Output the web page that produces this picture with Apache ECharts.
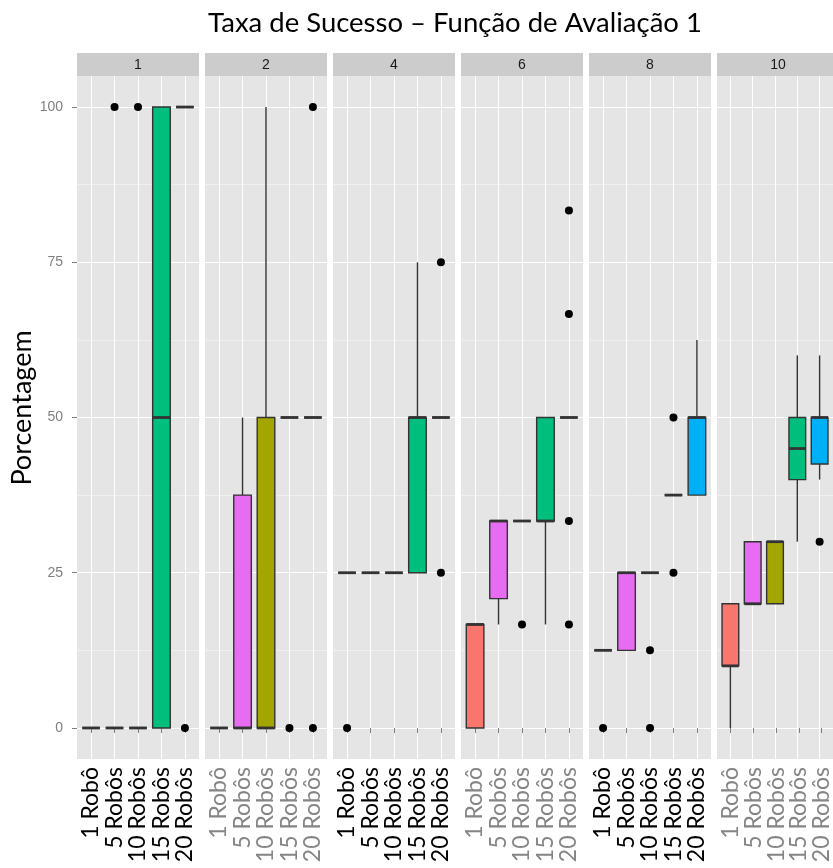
<!DOCTYPE html>
<html><head><meta charset="utf-8">
<script src="https://cdn.jsdelivr.net/npm/echarts@6/dist/echarts.min.js"></script>
<style>html,body{margin:0;padding:0;background:#fff}#c{width:833px;height:868px}</style>
</head><body><div id="c"></div>
<script>
// ---------- data ----------
const facets = ['1', '2', '4', '6', '8', '10'];
const categories = ['1 Robô', '5 Robôs', '10 Robôs', '15 Robôs', '20 Robôs'];
const colors = ['#F8766D', '#E76BF3', '#A3A500', '#00BF7D', '#00B0F6'];
const yTicks = [0, 25, 50, 75, 100];
const yMinorTicks = [12.5, 37.5, 62.5, 87.5];
// box stats per category: [min, q1, median, q3, max]
const stats1 = [[0,0,0,0,0],[0,0,0,0,0],[0,0,0,0,0],[0,0,50,100,100],[100,100,100,100,100]];
const stats2 = [[0,0,0,0,0],[0,0,0,37.5,50],[0,0,0,50,100],[50,50,50,50,50],[50,50,50,50,50]];
const stats4 = [[25,25,25,25,25],[25,25,25,25,25],[25,25,25,25,25],[25,25,50,50,75],[50,50,50,50,50]];
const stats6 = [[0,0,16.67,16.67,16.67],[16.67,20.83,33.33,33.33,33.33],[33.33,33.33,33.33,33.33,33.33],[16.67,33.33,33.33,50,50],[50,50,50,50,50]];
const stats8 = [[12.5,12.5,12.5,12.5,12.5],[12.5,12.5,25,25,25],[25,25,25,25,25],[37.5,37.5,37.5,37.5,37.5],[37.5,37.5,50,50,62.5]];
const stats10 = [[0,10,10,20,20],[20,20,20,30,30],[20,20,30,30,30],[30,40,45,50,60],[40,42.5,50,50,60]];
// outliers per category
const out1 = [[], [100], [100], [], [0]];
const out2 = [[], [], [], [0], [100, 0]];
const out4 = [[0], [], [], [], [75, 25]];
const out6 = [[], [], [16.67], [], [83.33, 66.67, 33.33, 16.67]];
const out8 = [[0], [], [12.5, 0], [50, 25], []];
const out10 = [[], [], [], [], [30]];

const allStats = [stats1, stats2, stats4, stats6, stats8, stats10];
const allOut = [out1, out2, out4, out6, out8, out10];
const labelColors = ['#000000', '#858585', '#000000', '#858585', '#000000', '#858585'];

// ---------- layout ----------
const P_LEFT = 77, P_STEP = 128, P_W = 122, P_TOP = 76, P_H = 683;
const STRIP_TOP = 53, STRIP_H = 23;
const X_MIN = 0.4, X_SPAN = 5.2;
const BW = 0.375;
const UNIT = P_W / X_SPAN;               // px per category step
const CAT_OFF = (1 - X_MIN - 0.5) * UNIT; // left offset of the label band

function renderBox(params, api) {
  const x = api.value(0);
  const vmin = api.value(1), q1 = api.value(2), med = api.value(3), q3 = api.value(4), vmax = api.value(5);
  const color = colors[api.value(6)];
  const l = api.coord([x - BW, q1]);
  const r = api.coord([x + BW, q3]);
  const c = api.coord([x, med]);
  const pMin = api.coord([x, vmin]);
  const pMax = api.coord([x, vmax]);
  const st = { stroke: '#333333', lineWidth: 1.4 };
  const children = [];
  if (vmax > q3) children.push({ type: 'line', shape: { x1: c[0], y1: pMax[1], x2: c[0], y2: r[1] }, style: st });
  if (vmin < q1) children.push({ type: 'line', shape: { x1: c[0], y1: l[1], x2: c[0], y2: pMin[1] }, style: st });
  children.push({ type: 'rect', shape: { x: l[0], y: r[1], width: r[0] - l[0], height: l[1] - r[1] },
    style: { fill: color, stroke: '#333333', lineWidth: 1.4 } });
  children.push({ type: 'line', shape: { x1: l[0], y1: c[1], x2: r[0], y2: c[1] }, style: { stroke: '#333333', lineWidth: 2.8 } });
  return { type: 'group', children: children };
}

const grids = [], xAxes = [], yAxes = [], series = [], graphics = [];
const N = facets.length;
facets.forEach(function (f, i) {
  const left = P_LEFT + P_STEP * i;
  // panel grid (background, gridlines, boxes)
  grids.push({ left: left, top: P_TOP, width: P_W, height: P_H, show: true, backgroundColor: '#E5E5E5', borderWidth: 0 });
  xAxes.push({
    type: 'value', gridIndex: i, min: X_MIN, max: X_MIN + X_SPAN,
    axisLine: { show: false },
    axisTick: { show: false, customValues: [1, 2, 3, 4, 5] },
    axisLabel: { show: false, customValues: [1, 2, 3, 4, 5] },
    splitLine: { show: true, lineStyle: { color: '#FFFFFF', width: 1 } }
  });
  yAxes.push({
    type: 'value', gridIndex: i, min: -5, max: 105, position: 'left',
    axisLine: { show: false },
    axisTick: { show: i === 0, length: 5, lineStyle: { color: '#7F7F7F' }, customValues: yTicks },
    axisLabel: { show: i === 0, customValues: yTicks, color: '#7F7F7F', fontFamily: 'Liberation Sans', fontSize: 14, margin: 14 },
    splitLine: { show: true, lineStyle: { color: '#FFFFFF', width: 1.2 } }
  });
  yAxes.push({
    type: 'value', gridIndex: i, min: -5, max: 105, position: 'right',
    axisLine: { show: false }, axisTick: { show: false, customValues: yMinorTicks },
    axisLabel: { show: false, customValues: yMinorTicks },
    splitLine: { show: true, lineStyle: { color: '#F2F2F2', width: 0.8 } }
  });
  const boxData = allStats[i].map(function (s, k) { return [k + 1, s[0], s[1], s[2], s[3], s[4], k]; });
  series.push({ type: 'custom', xAxisIndex: i, yAxisIndex: 2 * i, renderItem: renderBox, data: boxData, z: 3,
    encode: { x: 0, y: [1, 5] } });
  const pts = [];
  allOut[i].forEach(function (arr, k) { arr.forEach(function (v) { pts.push([k + 1, v]); }); });
  series.push({ type: 'scatter', xAxisIndex: i, yAxisIndex: 2 * i, data: pts, symbolSize: 8,
    itemStyle: { color: '#000000', opacity: 1 }, z: 4 });
  graphics.push({ type: 'rect', left: left, top: STRIP_TOP, shape: { width: P_W, height: STRIP_H }, style: { fill: '#CCCCCC' } });
  graphics.push({ type: 'text', x: left + P_W / 2, y: STRIP_TOP + STRIP_H / 2 + 1,
    style: { text: f, fill: '#1A1A1A', font: '14px "Liberation Sans"', textAlign: 'center', textVerticalAlign: 'middle' } });
});
// category label grids (ticks + labels at the category positions)
facets.forEach(function (f, i) {
  const left = P_LEFT + P_STEP * i + CAT_OFF;
  grids.push({ left: left, top: P_TOP, width: UNIT * categories.length, height: P_H, show: false });
  xAxes.push({
    type: 'category', gridIndex: N + i, data: categories, boundaryGap: true,
    axisLine: { show: false },
    axisTick: { show: true, alignWithLabel: true, interval: 0, length: 5, lineStyle: { color: '#7F7F7F' } },
    axisLabel: { show: true, interval: 0, rotate: 90, margin: 8, hideOverlap: false,
      color: labelColors[i], fontFamily: 'Lato', fontSize: 23, lineHeight: 18 },
    splitLine: { show: false }
  });
  yAxes.push({ type: 'value', gridIndex: N + i, min: -5, max: 105, show: false });
});
graphics.push({ type: 'text', x: 455, y: 23,
  style: { text: 'Taxa de Sucesso – Função de Avaliação 1', fill: '#000000', font: '27.5px Lato', textAlign: 'center', textVerticalAlign: 'middle' } });
graphics.push({ type: 'text', x: 22, y: 408, rotation: Math.PI / 2,
  style: { text: 'Porcentagem', fill: '#000000', font: '27px Lato', textAlign: 'center', textVerticalAlign: 'middle' } });

const chart = echarts.init(document.getElementById('c'), null, { renderer: 'canvas' });
chart.setOption({
  animation: false,
  backgroundColor: '#FFFFFF',
  grid: grids, xAxis: xAxes, yAxis: yAxes, series: series, graphic: graphics
});
</script>
</body></html>
